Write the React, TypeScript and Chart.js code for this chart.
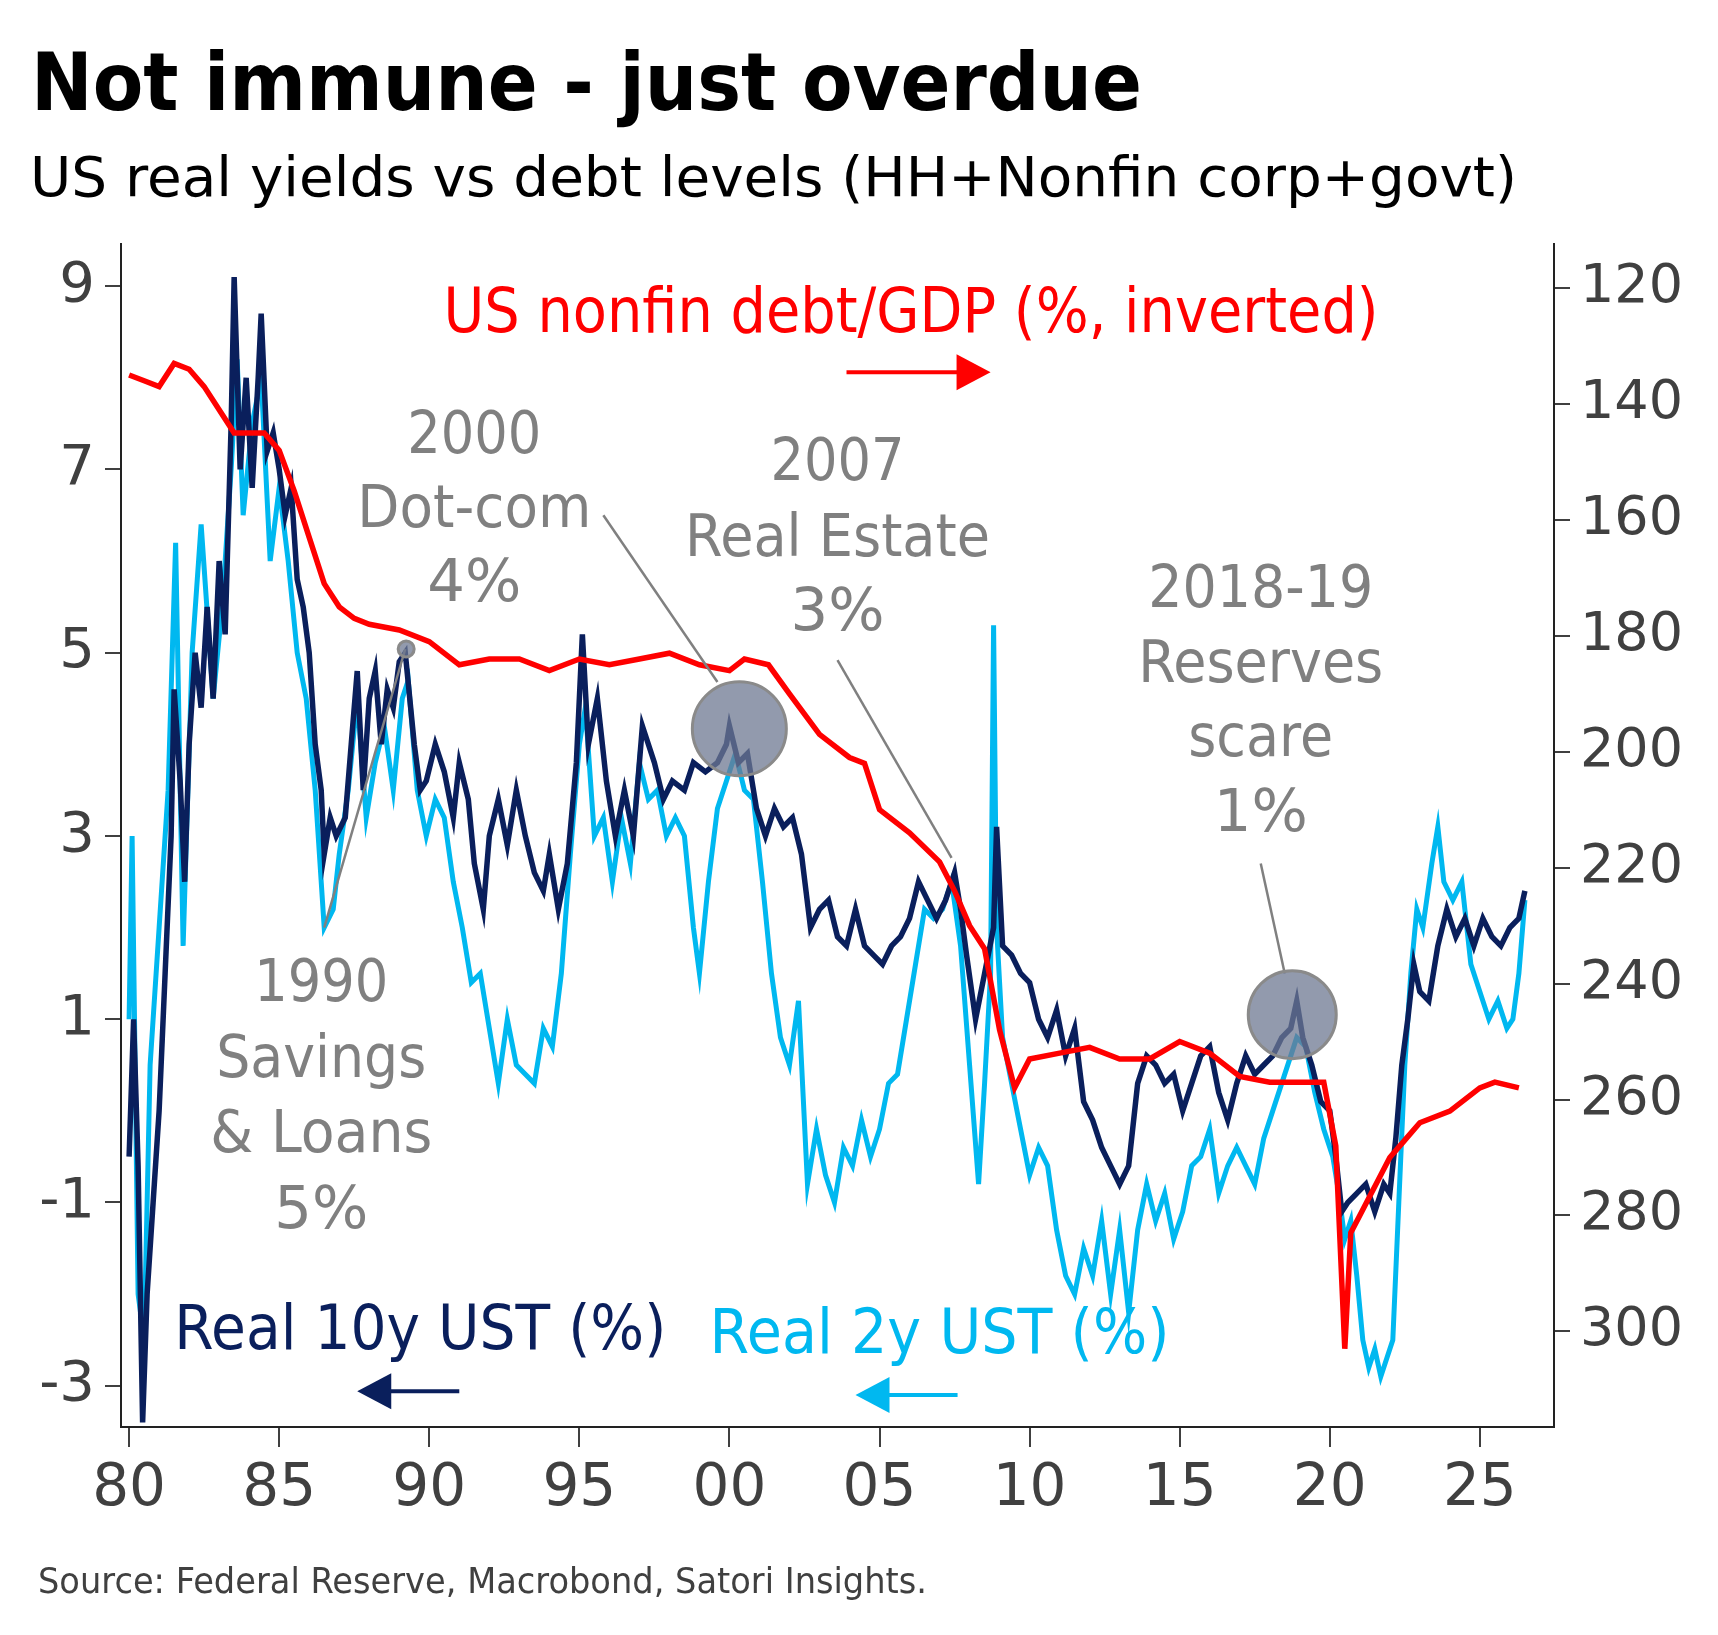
import React, { useEffect, useRef } from "react";
import { Chart, registerables } from "chart.js";
Chart.register(...registerables);

const y10Years = [1980.0,1980.15,1980.3,1980.45,1980.6,1980.8,1981.0,1981.2,1981.4,1981.5,1981.7,1981.85,1982.0,1982.2,1982.4,1982.6,1982.8,1983.0,1983.2,1983.4,1983.5,1983.7,1983.9,1984.1,1984.3,1984.4,1984.6,1984.8,1985.0,1985.2,1985.4,1985.6,1985.8,1986.0,1986.2,1986.4,1986.5,1986.7,1986.9,1987.2,1987.4,1987.6,1987.8,1988.0,1988.2,1988.4,1988.6,1988.8,1989.0,1989.2,1989.5,1989.7,1989.9,1990.2,1990.5,1990.8,1991.0,1991.3,1991.5,1991.8,1992.0,1992.3,1992.6,1992.9,1993.2,1993.5,1993.8,1994.0,1994.3,1994.6,1994.9,1995.1,1995.3,1995.6,1995.9,1996.2,1996.5,1996.8,1997.1,1997.5,1997.8,1998.1,1998.5,1998.8,1999.2,1999.6,1999.9,2000.0,2000.3,2000.6,2000.9,2001.2,2001.5,2001.8,2002.1,2002.4,2002.7,2003.0,2003.3,2003.6,2003.9,2004.2,2004.5,2004.8,2005.1,2005.4,2005.7,2006.0,2006.3,2006.6,2006.9,2007.2,2007.5,2007.7,2007.9,2008.2,2008.5,2008.8,2008.9,2009.1,2009.4,2009.7,2010.0,2010.3,2010.6,2010.9,2011.2,2011.5,2011.8,2012.1,2012.4,2012.7,2013.0,2013.3,2013.6,2013.9,2014.2,2014.5,2014.8,2015.1,2015.4,2015.7,2016.0,2016.3,2016.6,2016.9,2017.2,2017.5,2017.8,2018.1,2018.4,2018.7,2018.9,2019.1,2019.4,2019.7,2020.0,2020.2,2020.4,2020.6,2020.9,2021.2,2021.5,2021.8,2022.0,2022.2,2022.4,2022.6,2022.8,2023.0,2023.3,2023.6,2023.9,2024.2,2024.5,2024.8,2025.1,2025.4,2025.7,2026.0,2026.3,2026.5];
const y10Values = [-0.5,1.0,-0.6,-3.4,-2.0,-1.0,0.0,1.5,3.0,4.6,3.6,2.5,4.0,5.0,4.4,5.5,4.5,6.0,5.2,7.5,9.1,7.0,8.0,6.8,8.0,8.7,7.2,7.4,7.0,6.5,6.8,5.8,5.5,5.0,4.0,3.5,2.8,3.2,3.0,3.2,4.0,4.8,3.5,4.5,4.8,4.0,4.6,4.4,4.9,5.0,4.0,3.5,3.6,4.0,3.7,3.2,3.8,3.4,2.7,2.2,3.0,3.4,2.9,3.5,3.0,2.6,2.4,2.8,2.2,2.7,3.8,5.2,4.0,4.5,3.6,3.0,3.5,3.0,4.2,3.8,3.4,3.6,3.5,3.8,3.7,3.8,4.0,4.2,3.8,3.9,3.3,3.0,3.3,3.1,3.2,2.8,2.0,2.2,2.3,1.9,1.8,2.2,1.8,1.7,1.6,1.8,1.9,2.1,2.5,2.3,2.1,2.3,2.6,2.2,1.7,1.0,1.5,2.0,3.1,1.8,1.7,1.5,1.4,1.0,0.8,1.1,0.6,0.9,0.1,-0.1,-0.4,-0.6,-0.8,-0.6,0.3,0.6,0.5,0.3,0.4,0.0,0.3,0.6,0.7,0.2,-0.1,0.3,0.6,0.4,0.5,0.6,0.8,0.9,1.2,0.8,0.5,0.1,0.0,-0.5,-1.1,-1.0,-0.9,-0.8,-1.1,-0.8,-0.9,-0.3,0.5,1.0,1.6,1.3,1.2,1.8,2.2,1.9,2.1,1.8,2.1,1.9,1.8,2.0,2.1,2.4];

const y2Years = [1980.0,1980.1,1980.3,1980.5,1980.7,1981.0,1981.3,1981.55,1981.8,1982.1,1982.4,1982.8,1983.1,1983.4,1983.6,1983.8,1984.1,1984.4,1984.7,1985.0,1985.3,1985.6,1985.9,1986.2,1986.5,1986.8,1987.0,1987.3,1987.6,1987.9,1988.2,1988.5,1988.8,1989.1,1989.3,1989.6,1989.9,1990.2,1990.5,1990.8,1991.1,1991.4,1991.7,1992.0,1992.3,1992.6,1992.9,1993.2,1993.5,1993.8,1994.1,1994.4,1994.7,1995.0,1995.2,1995.5,1995.8,1996.1,1996.4,1996.7,1997.0,1997.3,1997.6,1997.9,1998.2,1998.5,1998.8,1999.0,1999.3,1999.6,1999.9,2000.2,2000.5,2000.8,2001.1,2001.4,2001.7,2002.0,2002.3,2002.6,2002.9,2003.2,2003.5,2003.8,2004.1,2004.4,2004.7,2005.0,2005.3,2005.6,2005.9,2006.2,2006.5,2006.8,2007.1,2007.4,2007.7,2008.0,2008.3,2008.5,2008.7,2008.8,2008.9,2009.1,2009.4,2009.7,2010.0,2010.3,2010.6,2010.9,2011.2,2011.5,2011.8,2012.1,2012.4,2012.7,2013.0,2013.3,2013.6,2013.9,2014.2,2014.5,2014.8,2015.1,2015.4,2015.7,2016.0,2016.3,2016.6,2016.9,2017.2,2017.5,2017.8,2018.1,2018.4,2018.7,2018.9,2019.2,2019.5,2019.8,2020.1,2020.3,2020.5,2020.7,2020.9,2021.1,2021.3,2021.5,2021.7,2021.9,2022.1,2022.3,2022.5,2022.7,2022.9,2023.1,2023.4,2023.6,2023.8,2024.1,2024.4,2024.7,2025.0,2025.3,2025.6,2025.9,2026.1,2026.3,2026.5];
const y2Values = [1.0,3.0,-2.0,-2.5,0.5,2.0,3.5,6.2,1.8,5.0,6.4,4.5,5.5,7.0,8.2,6.5,7.5,8.0,6.0,6.8,6.0,5.0,4.5,3.5,2.0,2.2,2.8,3.5,4.5,3.2,3.8,4.2,3.5,4.5,4.7,3.5,3.0,3.4,3.2,2.5,2.0,1.4,1.5,0.9,0.3,1.0,0.5,0.4,0.3,0.9,0.7,1.5,2.8,4.0,4.4,3.0,3.2,2.5,3.2,2.7,3.8,3.4,3.5,3.0,3.2,3.0,2.0,1.5,2.5,3.3,3.6,3.9,3.5,3.4,2.5,1.5,0.8,0.5,1.2,-0.8,-0.2,-0.7,-1.0,-0.4,-0.6,-0.1,-0.5,-0.2,0.3,0.4,1.0,1.6,2.2,2.1,2.2,2.5,1.8,0.5,-0.8,0.3,1.5,5.3,2.0,0.8,0.3,-0.2,-0.7,-0.4,-0.6,-1.3,-1.8,-2.0,-1.5,-1.8,-1.2,-2.0,-1.3,-2.2,-1.3,-0.8,-1.2,-0.9,-1.4,-1.1,-0.6,-0.5,-0.2,-0.9,-0.6,-0.4,-0.6,-0.8,-0.3,0.0,0.3,0.6,0.8,0.7,0.2,-0.2,-0.5,-0.9,-1.4,-1.2,-1.8,-2.5,-2.8,-2.6,-2.9,-2.7,-2.5,-1.0,0.5,1.5,2.2,2.0,2.7,3.1,2.5,2.3,2.5,1.6,1.3,1.0,1.2,0.9,1.0,1.5,2.3];

const debtYears = [1980.0,1980.5,1981.0,1981.5,1982.0,1982.5,1983.0,1983.5,1984.0,1984.5,1985.0,1985.5,1986.0,1986.5,1987.0,1987.5,1988.0,1989.0,1990.0,1991.0,1992.0,1993.0,1994.0,1995.0,1996.0,1997.0,1998.0,1999.0,2000.0,2000.5,2001.3,2002.0,2003.0,2004.0,2004.5,2005.0,2006.0,2007.0,2007.5,2008.0,2008.5,2009.0,2009.5,2010.0,2011.0,2012.0,2013.0,2014.0,2015.0,2016.0,2017.0,2018.0,2019.0,2019.8,2020.2,2020.5,2020.7,2021.0,2022.0,2022.5,2023.0,2024.0,2025.0,2025.5,2026.3];
const debtValues = [135,136,137,133,134,137,141,145,145,145,148,155,163,171,175,177,178,179,181,185,184,184,186,184,185,184,183,185,186,184,185,190,197,201,202,210,214,219,224,230,234,248,258,253,252,251,253,253,250,252,256,257,257,257,268,303,283,280,270,267,264,262,258,257,258];

const leftTicks = [-3, -1, 1, 3, 5, 7, 9];
const rightTicks = [120, 140, 160, 180, 200, 220, 240, 260, 280, 300];
const xTicks = [1980, 1985, 1990, 1995, 2000, 2005, 2010, 2015, 2020, 2025];

const FONT = '"DejaVu Sans", Verdana, sans-serif';
const GRAY = "#808080";
const NAVY = "#0a1f5c";
const SKY = "#00b8f0";
const RED = "#ff0000";
const AXIS = "#404040";

function zip(xs: number[], ys: number[]) {
  return xs.map((x, i) => ({ x, y: ys[i] }));
}

function fitText(ctx: CanvasRenderingContext2D, text: string, x: number, y: number, font: string, width: number, align: "left" | "center") {
  ctx.save();
  ctx.font = font;
  const w = ctx.measureText(text).width;
  const s = width / w;
  ctx.translate(x, y);
  ctx.scale(s, 1);
  ctx.textAlign = align;
  ctx.textBaseline = "alphabetic";
  ctx.fillText(text, 0, 0);
  ctx.restore();
}

export default function App() {
  const ref = useRef<HTMLCanvasElement | null>(null);
  useEffect(() => {
    const canvas = ref.current!;
    const overlay = {
      id: "overlay",
      afterDatasetsDraw(chart: any) {
        const ctx = chart.ctx as CanvasRenderingContext2D;
        const X = (v: number) => chart.scales.x.getPixelForValue(v);
        const Y = (v: number) => chart.scales.y.getPixelForValue(v);
        ctx.save();
        ctx.strokeStyle = GRAY;
        ctx.lineWidth = 2.5;
        const lines = [
          [1995.8, 6.5, 1999.6, 4.68],
          [2003.6, 4.92, 2007.4, 2.76],
          [2017.7, 2.7, 2018.5, 1.5],
          [1986.5, 2.0, 1989.2, 5.04],
        ];
        for (const l of lines) {
          ctx.beginPath();
          ctx.moveTo(X(l[0]), Y(l[1]));
          ctx.lineTo(X(l[2]), Y(l[3]));
          ctx.stroke();
        }
        const circles = [
          [2000.33, 4.17, 47],
          [2018.75, 1.05, 44],
          [1989.23, 5.04, 8],
        ];
        for (const c of circles) {
          ctx.beginPath();
          ctx.arc(X(c[0]), Y(c[1]), c[2], 0, Math.PI * 2);
          ctx.fillStyle = "rgba(110,120,145,0.75)";
          ctx.fill();
          ctx.lineWidth = 3;
          ctx.strokeStyle = "#8a8a8a";
          ctx.stroke();
        }
        ctx.fillStyle = GRAY;
        const f = `58px ${FONT}`;
        const d = 0.18;
        const ann: [string, number, number, number][] = [
          ["2000", 1991.5, 7.0 + d, 134],
          ["Dot-com", 1991.5, 6.19 + d, 234],
          ["4%", 1991.5, 5.38 + d, 94],
          ["2007", 2003.6, 6.7 + d, 134],
          ["Real Estate", 2003.6, 5.88 + d, 305],
          ["3%", 2003.6, 5.07 + d, 94],
          ["2018-19", 2017.7, 5.32 + d, 225],
          ["Reserves", 2017.7, 4.5 + d, 245],
          ["scare", 2017.7, 3.69 + d, 145],
          ["1%", 2017.7, 2.87 + d, 94],
          ["1990", 1986.4, 1.02 + d, 134],
          ["Savings", 1986.4, 0.19 + d, 210],
          ["& Loans", 1986.4, -0.63 + d, 222],
          ["5%", 1986.4, -1.46 + d, 94],
        ];
        for (const a of ann) fitText(ctx, a[0], X(a[1]), Y(a[2]), f, a[3], "center");
        ctx.fillStyle = RED;
        fitText(ctx, "US nonfin debt/GDP (%, inverted)", X(2006.05), Y(8.5), `62px ${FONT}`, 935, "center");
        ctx.fillStyle = NAVY;
        fitText(ctx, "Real 10y UST (%)", X(1989.7), Y(-2.6), `62px ${FONT}`, 492, "center");
        ctx.fillStyle = SKY;
        fitText(ctx, "Real 2y UST (%)", X(2007.0), Y(-2.64), `62px ${FONT}`, 460, "center");
        const arrow = (x0: number, x1: number, yv: number, col: string) => {
          const px0 = X(x0), px1 = X(x1), py = Y(yv);
          const dir = Math.sign(px1 - px0);
          ctx.strokeStyle = col;
          ctx.fillStyle = col;
          ctx.lineWidth = 4;
          ctx.beginPath();
          ctx.moveTo(px0, py);
          ctx.lineTo(px1 - dir * 30, py);
          ctx.stroke();
          ctx.beginPath();
          ctx.moveTo(px1, py);
          ctx.lineTo(px1 - dir * 34, py - 18);
          ctx.lineTo(px1 - dir * 34, py + 18);
          ctx.closePath();
          ctx.fill();
        };
        arrow(2003.9, 2008.7, 8.06, RED);
        arrow(1991.0, 1987.6, -3.06, NAVY);
        arrow(2007.6, 2004.2, -3.1, SKY);
        ctx.restore();
      },
      afterDraw(chart: any) {
        const ctx = chart.ctx as CanvasRenderingContext2D;
        ctx.save();
        ctx.fillStyle = "#000";
        fitText(ctx, "Not immune - just overdue", 31, 110, `bold 80px ${FONT}`, 1111, "left");
        fitText(ctx, "US real yields vs debt levels (HH+Nonfin corp+govt)", 30, 196, `56px ${FONT}`, 1487, "left");
        ctx.fillStyle = AXIS;
        fitText(ctx, "Source: Federal Reserve, Macrobond, Satori Insights.", 38, 1593, `36px ${FONT}`, 889, "left");
        ctx.restore();
      },
    };

    const chart = new Chart(canvas, {
      type: "line",
      data: {
        datasets: [
          { data: zip(debtYears, debtValues), yAxisID: "y2", borderColor: RED, borderWidth: 5.5, pointRadius: 0, tension: 0 },
          { data: zip(y10Years, y10Values), yAxisID: "y", borderColor: NAVY, borderWidth: 5.5, pointRadius: 0, tension: 0 },
          { data: zip(y2Years, y2Values), yAxisID: "y", borderColor: SKY, borderWidth: 5, pointRadius: 0, tension: 0 },
        ],
      },
      options: {
        animation: false,
        responsive: false,
        devicePixelRatio: 1,
        layout: { padding: { top: 244, left: 0, right: 0, bottom: 0 } },
        plugins: { legend: { display: false }, tooltip: { enabled: false } },
        scales: {
          x: {
            type: "linear",
            min: 1979.73,
            max: 2027.47,
            afterBuildTicks: (s: any) => { s.ticks = xTicks.map((v) => ({ value: v })); },
            afterFit: (s: any) => { s.height = 208; },
            ticks: { color: AXIS, font: { family: FONT, size: 58 }, padding: 8, callback: (v: any) => String(Number(v) % 100).padStart(2, "0") },
            grid: { drawOnChartArea: false, tickLength: 20, color: AXIS, lineWidth: 2 },
            border: { color: "#222", width: 2 },
          },
          y: {
            position: "left",
            min: -3.45,
            max: 9.46,
            afterBuildTicks: (s: any) => { s.ticks = leftTicks.map((v) => ({ value: v })); },
            afterFit: (s: any) => { s.width = 121; },
            ticks: { color: AXIS, font: { family: FONT, size: 56 }, padding: 10 },
            grid: { drawOnChartArea: false, tickLength: 16, color: AXIS, lineWidth: 2 },
            border: { color: "#222", width: 2 },
          },
          y2: {
            position: "right",
            reverse: true,
            min: 112.4,
            max: 316.5,
            afterBuildTicks: (s: any) => { s.ticks = rightTicks.map((v) => ({ value: v })); },
            afterFit: (s: any) => { s.width = 164; },
            ticks: { color: AXIS, font: { family: FONT, size: 54 }, padding: 10 },
            grid: { drawOnChartArea: false, tickLength: 16, color: AXIS, lineWidth: 2 },
            border: { color: "#222", width: 2 },
          },
        },
      },
      plugins: [overlay],
    } as any);
    return () => chart.destroy();
  }, []);
  return (
    <div style={{ position: "absolute", left: 0, top: 0, width: 1718, height: 1635, background: "#fff" }}>
      <canvas ref={ref} width={1718} height={1635} style={{ width: 1718, height: 1635, display: "block" }} />
    </div>
  );
}
